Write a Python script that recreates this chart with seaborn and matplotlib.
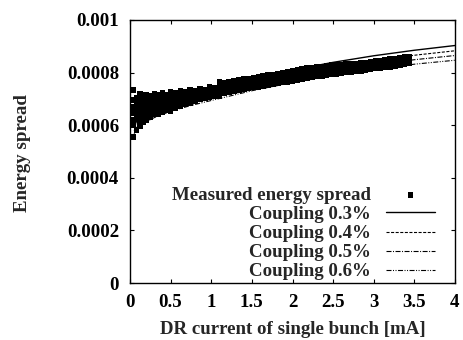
import matplotlib
matplotlib.use("Agg")
import matplotlib.pyplot as plt
import seaborn as sns
import pandas as pd

# ---------------- data ----------------
meas_current = [
    0.04, 0.04, 0.04, 0.04, 0.04, 0.04, 0.04,
    0.08, 0.08, 0.08, 0.08, 0.08, 0.08,
    0.12, 0.12, 0.12, 0.12, 0.12, 0.12, 0.12,
    0.16, 0.16, 0.16, 0.16, 0.16, 0.16,
    0.20, 0.20, 0.20, 0.20, 0.20, 0.20,
    0.25, 0.25, 0.25, 0.25, 0.25,
    0.30, 0.30, 0.30, 0.30, 0.30,
    0.35, 0.35, 0.35, 0.35, 0.35,
    0.40, 0.40, 0.40, 0.40, 0.40,
    0.45, 0.45, 0.45, 0.45,
    0.50, 0.50, 0.50, 0.50, 0.50,
    0.56, 0.56, 0.56, 0.56,
    0.62, 0.62, 0.62, 0.62,
    0.68, 0.68, 0.68, 0.68,
    0.74, 0.74, 0.74, 0.74,
    0.80, 0.80, 0.80,
    0.86, 0.86, 0.86,
    0.92, 0.92, 0.92,
    0.98, 0.98, 0.98,
    1.04, 1.04, 1.04,
    1.10, 1.10, 1.10, 1.10,
    1.16, 1.16, 1.16,
    1.22, 1.22, 1.22,
    1.28, 1.28, 1.28,
    1.34, 1.34, 1.34,
    1.40, 1.40, 1.40,
    1.46, 1.46, 1.46,
    1.52, 1.52, 1.52,
    1.58, 1.58, 1.58,
    1.64, 1.64, 1.64,
    1.70, 1.70, 1.70,
    1.76, 1.76, 1.76,
    1.82, 1.82, 1.82,
    1.88, 1.88, 1.88,
    1.94, 1.94, 1.94,
    2.00, 2.00, 2.00,
    2.06, 2.06, 2.06,
    2.12, 2.12, 2.12,
    2.18, 2.18, 2.18,
    2.24, 2.24, 2.24,
    2.30, 2.30, 2.30,
    2.36, 2.36, 2.36,
    2.42, 2.42, 2.42,
    2.48, 2.48, 2.48,
    2.54, 2.54, 2.54,
    2.60, 2.60, 2.60,
    2.66, 2.66, 2.66,
    2.72, 2.72, 2.72,
    2.78, 2.78, 2.78,
    2.84, 2.84, 2.84,
    2.90, 2.90, 2.90,
    2.96, 2.96, 2.96,
    3.02, 3.02, 3.02,
    3.08, 3.08, 3.08,
    3.14, 3.14, 3.14,
    3.20, 3.20, 3.20,
    3.26, 3.26, 3.26,
    3.32, 3.32, 3.32,
    3.38, 3.38, 3.38,
    3.44, 3.44, 3.44,
]
meas_spread = [
    0.000734, 0.000696, 0.000670, 0.000646, 0.000620, 0.000600, 0.000555,
    0.000705, 0.000685, 0.000665, 0.000645, 0.000625, 0.000582,
    0.000718, 0.000698, 0.000678, 0.000658, 0.000638, 0.000618, 0.000598,
    0.000712, 0.000692, 0.000672, 0.000652, 0.000632, 0.000612,
    0.000716, 0.000696, 0.000676, 0.000656, 0.000636, 0.000618,
    0.000712, 0.000692, 0.000672, 0.000652, 0.000632,
    0.000718, 0.000698, 0.000678, 0.000658, 0.000640,
    0.000714, 0.000694, 0.000674, 0.000654, 0.000640,
    0.000722, 0.000702, 0.000682, 0.000662, 0.000648,
    0.000716, 0.000696, 0.000676, 0.000658,
    0.000728, 0.000708, 0.000688, 0.000668, 0.000655,
    0.000722, 0.000702, 0.000682, 0.000665,
    0.000732, 0.000712, 0.000692, 0.000674,
    0.000728, 0.000708, 0.000688, 0.000678,
    0.000735, 0.000715, 0.000695, 0.000682,
    0.000732, 0.000712, 0.000692,
    0.000740, 0.000720, 0.000700,
    0.000736, 0.000716, 0.000702,
    0.000745, 0.000725, 0.000706,
    0.000742, 0.000724, 0.000710,
    0.000765, 0.000745, 0.000725, 0.000712,
    0.000760, 0.000740, 0.000722,
    0.000766, 0.000746, 0.000727,
    0.000768, 0.000750, 0.000730,
    0.000772, 0.000752, 0.000734,
    0.000775, 0.000756, 0.000737,
    0.000778, 0.000760, 0.000740,
    0.000782, 0.000764, 0.000744,
    0.000784, 0.000766, 0.000746,
    0.000787, 0.000770, 0.000749,
    0.000790, 0.000772, 0.000752,
    0.000793, 0.000775, 0.000755,
    0.000796, 0.000778, 0.000758,
    0.000800, 0.000781, 0.000762,
    0.000803, 0.000785, 0.000765,
    0.000808, 0.000788, 0.000768,
    0.000812, 0.000792, 0.000772,
    0.000816, 0.000796, 0.000776,
    0.000819, 0.000800, 0.000780,
    0.000820, 0.000802, 0.000783,
    0.000822, 0.000804, 0.000786,
    0.000824, 0.000806, 0.000788,
    0.000826, 0.000808, 0.000790,
    0.000828, 0.000810, 0.000793,
    0.000829, 0.000812, 0.000795,
    0.000830, 0.000814, 0.000798,
    0.000832, 0.000816, 0.000800,
    0.000833, 0.000818, 0.000802,
    0.000835, 0.000820, 0.000805,
    0.000837, 0.000822, 0.000807,
    0.000839, 0.000824, 0.000810,
    0.000841, 0.000826, 0.000812,
    0.000844, 0.000828, 0.000815,
    0.000846, 0.000830, 0.000817,
    0.000848, 0.000833, 0.000820,
    0.000851, 0.000836, 0.000822,
    0.000854, 0.000839, 0.000825,
    0.000857, 0.000842, 0.000828,
    0.000860, 0.000845, 0.000831,
    0.000862, 0.000848, 0.000835,
]

curve_current = [0.05, 0.1, 0.2, 0.3, 0.5, 0.75, 1.0, 1.5, 2.0, 2.5, 3.0, 3.5, 4.0]
coupling_03 = [0.000600, 0.000622, 0.000648, 0.000665, 0.000692, 0.000716, 0.000736,
               0.000776, 0.000810, 0.000839, 0.000864, 0.000885, 0.000903]
coupling_04 = [0.000589, 0.000610, 0.000635, 0.000652, 0.000678, 0.000702, 0.000722,
               0.000760, 0.000793, 0.000821, 0.000845, 0.000866, 0.000883]
coupling_05 = [0.000578, 0.000599, 0.000624, 0.000640, 0.000665, 0.000688, 0.000707,
               0.000745, 0.000777, 0.000805, 0.000829, 0.000849, 0.000865]
coupling_06 = [0.000568, 0.000589, 0.000613, 0.000629, 0.000653, 0.000675, 0.000694,
               0.000731, 0.000762, 0.000789, 0.000812, 0.000832, 0.000847]

curve_labels = ["Coupling 0.3%", "Coupling 0.4%", "Coupling 0.5%", "Coupling 0.6%"]
meas_label = "Measured energy spread"
x_ticks = [0, 0.5, 1, 1.5, 2, 2.5, 3, 3.5, 4]
x_tick_labels = ["0", "0.5", "1", "1.5", "2", "2.5", "3", "3.5", "4"]
y_ticks = [0, 0.0002, 0.0004, 0.0006, 0.0008, 0.001]
y_tick_labels = ["0", "0.0002", "0.0004", "0.0006", "0.0008", "0.001"]
x_label = "DR current of single bunch [mA]"
y_label = "Energy spread"

# ---------------- style ----------------
sns.set_theme(style="ticks")
plt.rcParams["font.family"] = ["Liberation Serif", "DejaVu Serif"]
plt.rcParams["font.weight"] = "bold"
plt.rcParams["lines.scale_dashes"] = False
FS = 13.6

fig = plt.figure(figsize=(4.64, 3.40), dpi=100)
ax = fig.add_axes([130 / 464, 1 - 283 / 340, 325 / 464, 263 / 340])

meas_df = pd.DataFrame({"current": meas_current, "spread": meas_spread})
sns.scatterplot(data=meas_df, x="current", y="spread", ax=ax, marker="s",
                s=16, color="black", edgecolor="none", linewidth=0,
                label=meas_label, zorder=2)

styles = ["-", (0, (2.2, 1.1)), (0, (3.6, 1.1, 0.7, 1.1)),
          (0, (3.6, 1.1, 0.7, 1.1, 0.7, 1.1))]
widths = [1.0, 0.8, 0.8, 0.8]
for vals, lab, ls, lw in zip([coupling_03, coupling_04, coupling_05, coupling_06],
                             curve_labels, styles, widths):
    df = pd.DataFrame({"current": curve_current, "spread": vals})
    sns.lineplot(data=df, x="current", y="spread", ax=ax, color="black",
                 linestyle=ls, linewidth=lw, label=lab, zorder=3)

ax.set_xlim(0, 4)
ax.set_ylim(0, 0.001)
ax.set_xticks(x_ticks)
ax.set_xticklabels(x_tick_labels)
ax.set_yticks(y_ticks)
ax.set_yticklabels(y_tick_labels)
ax.tick_params(direction="in", length=3.2, width=0.8, top=True, right=True,
               labelsize=FS, colors="black")
ax.tick_params(axis="x", pad=8)
ax.tick_params(axis="y", pad=8)
for lab in ax.get_xticklabels() + ax.get_yticklabels():
    lab.set_fontweight("bold")
for sp in ax.spines.values():
    sp.set_linewidth(1.0)
    sp.set_color("black")

ax.set_xlabel(x_label, fontsize=FS, fontweight="bold")
ax.set_ylabel(y_label, fontsize=FS, fontweight="bold")
ax.xaxis.set_label_coords(0.5, -0.145)
ax.yaxis.set_label_coords(-0.305, 0.494)

leg = ax.legend(loc="lower right", bbox_to_anchor=((435 - 130) / 325, 0.01),
                frameon=False, markerfirst=False, handlelength=2.6,
                handletextpad=0.8, labelspacing=0.1, borderpad=0, borderaxespad=0,
                numpoints=1, markerscale=1.0,
                prop={"family": ["Liberation Serif"], "weight": "bold", "size": FS})
for t in leg.get_texts():
    t.set_fontweight("bold")
    t.set_fontsize(FS)
ax.grid(False)

fig.savefig("out.png", dpi=100)
